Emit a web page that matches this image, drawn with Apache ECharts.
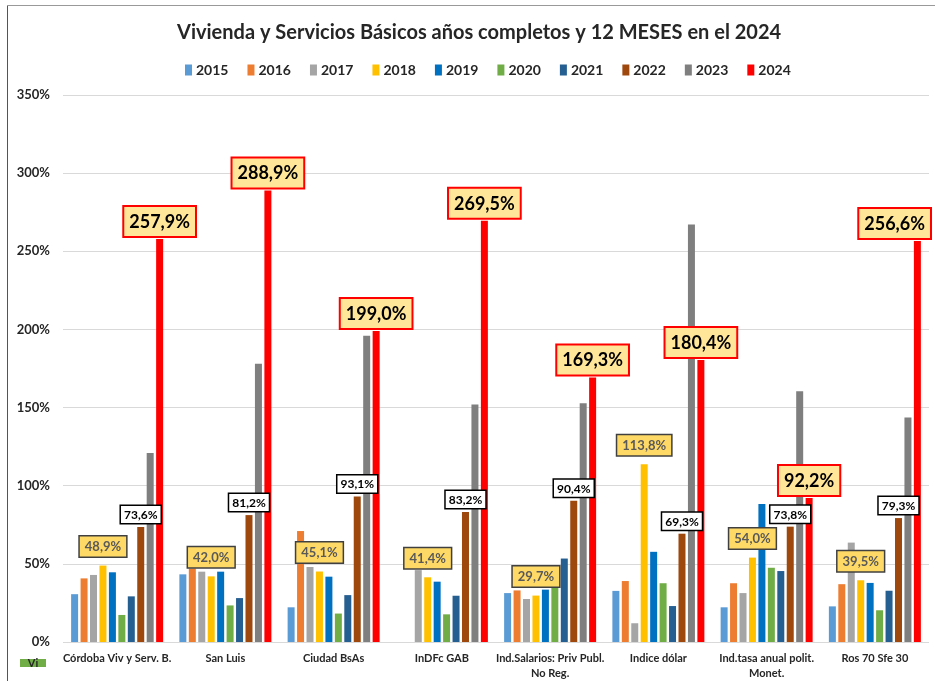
<!DOCTYPE html>
<html>
<head>
<meta charset="utf-8">
<script src="https://cdn.jsdelivr.net/npm/echarts@6/dist/echarts.min.js"></script>
<style>html,body{margin:0;padding:0;background:#fff}#c{width:935px;height:681px}</style>
</head>
<body>
<div id="c"></div>
<script>
const categories = ["Córdoba Viv y Serv. B.", "San Luis", "Ciudad BsAs", "InDFc GAB", "Ind.Salarios: Priv Publ.\nNo Reg.", "Indice dólar", "Ind.tasa anual polit.\nMonet.", "Ros 70 Sfe 30"];
const years = ["2015","2016","2017","2018","2019","2020","2021","2022","2023","2024"];
const v2015 = [30.6, 43.3, 22.2, null, 31.3, 32.7, 22.2, 22.8];
const v2016 = [40.7, 47.0, 71.0, null, 33.0, 39.0, 37.6, 37.0];
const v2017 = [42.9, 45.0, 48.0, 46.0, 27.5, 12.0, 31.3, 63.6];
const v2018 = [48.9, 42.0, 45.1, 41.4, 29.7, 113.8, 54.0, 39.5];
const v2019 = [44.6, 45.0, 41.8, 38.6, 33.5, 57.7, 88.3, 37.8];
const v2020 = [17.3, 23.4, 18.2, 17.7, 35.0, 37.6, 47.5, 20.3];
const v2021 = [29.2, 28.1, 30.0, 29.6, 53.4, 23.0, 45.4, 32.8];
const v2022 = [73.6, 81.2, 93.1, 83.2, 90.4, 69.3, 73.8, 79.3];
const v2023 = [121.0, 178.0, 196.0, 152.0, 152.7, 267.2, 160.5, 143.7];
const v2024 = [257.9, 288.9, 199.0, 269.5, 169.3, 180.4, 92.2, 256.6];
const yTicks = [0, 50, 100, 150, 200, 250, 300, 350];

const values = [v2015, v2016, v2017, v2018, v2019, v2020, v2021, v2022, v2023, v2024];
const colors = ["#5B9BD5","#ED7D31","#A5A5A5","#FFC000","#0070C0","#70AD47","#255E91","#9E480E","#7F7F7F","#FF0000"];
const FONT = "Lato";
const fmt = p => p.value == null ? '' : p.value.toFixed(1).replace('.', ',') + '%';

const labelStyles = {
  "2018": {show: true, position: 'top', distance: 9, formatter: fmt, fontFamily: FONT, fontWeight: 'bold', fontSize: 13, color: '#595959', backgroundColor: '#FFD966', borderColor: '#404040', borderWidth: 1.5, padding: [4, 5, 3, 5]},
  "2022": {show: true, position: 'top', distance: 4, formatter: fmt, fontFamily: FONT, fontWeight: 'bold', fontSize: 12, color: '#000', backgroundColor: '#fff', borderColor: '#000', borderWidth: 1.5, padding: [3, 3, 2, 3]},
  "2024": {show: true, position: 'top', distance: 3, formatter: fmt, fontFamily: FONT, fontWeight: 'bold', fontSize: 18, color: '#000', backgroundColor: '#FFE699', borderColor: '#FF0000', borderWidth: 2, padding: [6, 5, 5, 5]}
};

// keep labels inside the canvas (like the original, where the last label is pushed inward)
const keepInside = (p) => {
  const r = p.labelRect;
  const over = r.x + r.width - 932;
  return over > 0 ? {dx: -over, hideOverlap: false} : {hideOverlap: false};
};

const series = years.map((y, i) => ({
  name: y,
  type: 'bar',
  data: values[i],
  itemStyle: {color: colors[i]},
  barGap: '35%',
  barCategoryGap: '15%',
  label: labelStyles[y] || {show: false},
  labelLayout: keepInside,
  emphasis: {disabled: true},
  animation: false
}));

const chart = echarts.init(document.getElementById('c'), null, {renderer: 'canvas'});
chart.setOption({
  animation: false,
  backgroundColor: '#fff',
  title: {
    text: 'Vivienda y Servicios Básicos años completos y 12 MESES en el 2024',
    left: 172, top: 18,
    textStyle: {fontFamily: FONT, fontWeight: 'bold', fontSize: 20, color: '#262626'}
  },
  legend: {
    data: years, top: 58, left: 180, itemWidth: 7, itemHeight: 11, itemGap: 19,
    icon: 'rect',
    textStyle: {fontFamily: FONT, fontWeight: 'bold', fontSize: 14, color: '#262626', padding: [0,0,0,-1]}
  },
  grid: {left: 63, right: 6, top: 95, bottom: 34, containLabel: false},
  xAxis: {
    type: 'category', data: categories,
    axisLine: {show: false}, axisTick: {show: false},
    axisLabel: {fontFamily: FONT, fontWeight: 'bold', fontSize: 11, color: '#262626', margin: 9, lineHeight: 15, interval: 0}
  },
  yAxis: {
    type: 'value', min: yTicks[0], max: yTicks[yTicks.length-1], interval: 50,
    axisLine: {show: false}, axisTick: {show: false},
    splitLine: {lineStyle: {color: '#D9D9D9', width: 1}},
    axisLabel: {formatter: '{value}%', fontFamily: FONT, fontWeight: 'bold', fontSize: 13, color: '#262626', margin: 13}
  },
  graphic: [
    {type: 'line', shape: {x1: 7.5, y1: 5, x2: 7.5, y2: 681}, style: {stroke: '#555', lineWidth: 1}, silent: true},
    {type: 'line', shape: {x1: 7, y1: 5.5, x2: 935, y2: 5.5}, style: {stroke: '#999', lineWidth: 1}, silent: true},
    {type: 'rect', shape: {x: 20, y: 659, width: 26, height: 8}, style: {fill: '#70AD47'}, silent: true},
    {type: 'text', style: {x: 33, y: 663, text: 'Vi', fill: '#262626', font: 'bold 11px Lato', align: 'center', verticalAlign: 'middle'}, silent: true}
  ],
  series: series
});
</script>
</body>
</html>
